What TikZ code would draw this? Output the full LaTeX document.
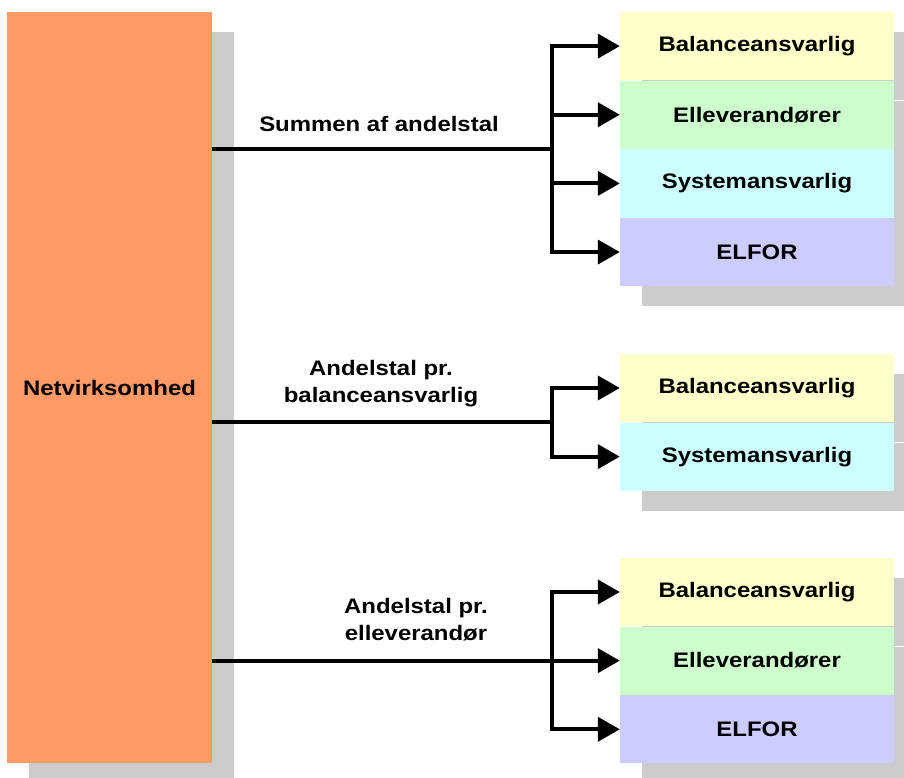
\documentclass[tikz,border=0pt]{standalone}
\usepackage{fontspec}
\setmainfont{Liberation Sans}[FakeStretch=1.14]
\usetikzlibrary{arrows.meta,positioning,shadows}
\definecolor{netorange}{HTML}{FF9966}
\definecolor{balfill}{HTML}{FFFFCC}
\definecolor{ellfill}{HTML}{CCFFCC}
\definecolor{sysfill}{HTML}{CCFFFF}
\definecolor{elforfill}{HTML}{CCCCFF}
\definecolor{shade}{HTML}{CCCCCC}

\begin{document}
\begin{tikzpicture}[x=1pt, y=-1pt, every node/.style={font=\fontsize{21}{27}\selectfont\bfseries}]
	\tikzstyle{net} = [rectangle, fill=netorange, inner sep=0pt, minimum width=205pt, minimum height=751pt, general shadow={fill=shade, shadow xshift=22pt, shadow yshift=-20pt}]
	\tikzstyle{role} = [rectangle, inner sep=0pt, minimum width=274pt, minimum height=68.25pt, general shadow={fill=shade, shadow xshift=22pt, shadow yshift=-20pt}]
	\tikzstyle{tag} = [align=center, inner sep=0pt]
	\tikzstyle{branch} = [draw, line width=4pt]
	\tikzstyle{line} = [draw, line width=4pt, -{Triangle[length=22pt,width=24pt]}]
	\useasboundingbox (0,0) rectangle (904,778);
	\node [net] (net) at (109.5,387.5) {Netvirksomhed};
	% group 1
	\node [role, fill=balfill] (bal1) at (757,46.1) {Balanceansvarlig};
	\node [role, fill=ellfill, below=0pt of bal1] (ell1) {Elleverandører};
	\node [role, fill=sysfill, below=0pt of ell1] (sys1) {Systemansvarlig};
	\node [role, fill=elforfill, below=0pt of sys1] (elfor1) {ELFOR};
	% group 2
	\node [role, fill=balfill] (bal2) at (757,388) {Balanceansvarlig};
	\node [role, fill=sysfill, below=0pt of bal2] (sys2) {Systemansvarlig};
	% group 3
	\node [role, fill=balfill] (bal3) at (757,592) {Balanceansvarlig};
	\node [role, fill=ellfill, below=0pt of bal3] (ell3) {Elleverandører};
	\node [role, fill=elforfill, below=0pt of ell3] (elfor3) {ELFOR};
	% labels
	\node [tag] (sum) at (379,124) {Summen af andelstal};
	\node [tag] (perbal) at (381,384) {Andelstal pr.\\balanceansvarlig};
	\node [tag] (perell) at (416,620) {Andelstal pr.\\elleverandør};
	% connectors
	\coordinate (fork1) at (552,149);
	\coordinate (fork2) at (552,422);
	\coordinate (fork3) at (552,660);
	\path [branch] (net.east |- fork1) -- (fork1);
	\path [line] (fork1) |- (bal1.west);
	\path [line] (fork1) |- (ell1.west);
	\path [line] (fork1) |- (sys1.west);
	\path [line] (fork1) |- (elfor1.west);
	\path [branch] (net.east |- fork2) -- (fork2);
	\path [line] (fork2) |- (bal2.west);
	\path [line] (fork2) |- (sys2.west);
	\path [line] (net.east |- ell3) -- (ell3.west);
	\path [line] (fork3) |- (bal3.west);
	\path [line] (fork3) |- (elfor3.west);
\end{tikzpicture}
\end{document}
